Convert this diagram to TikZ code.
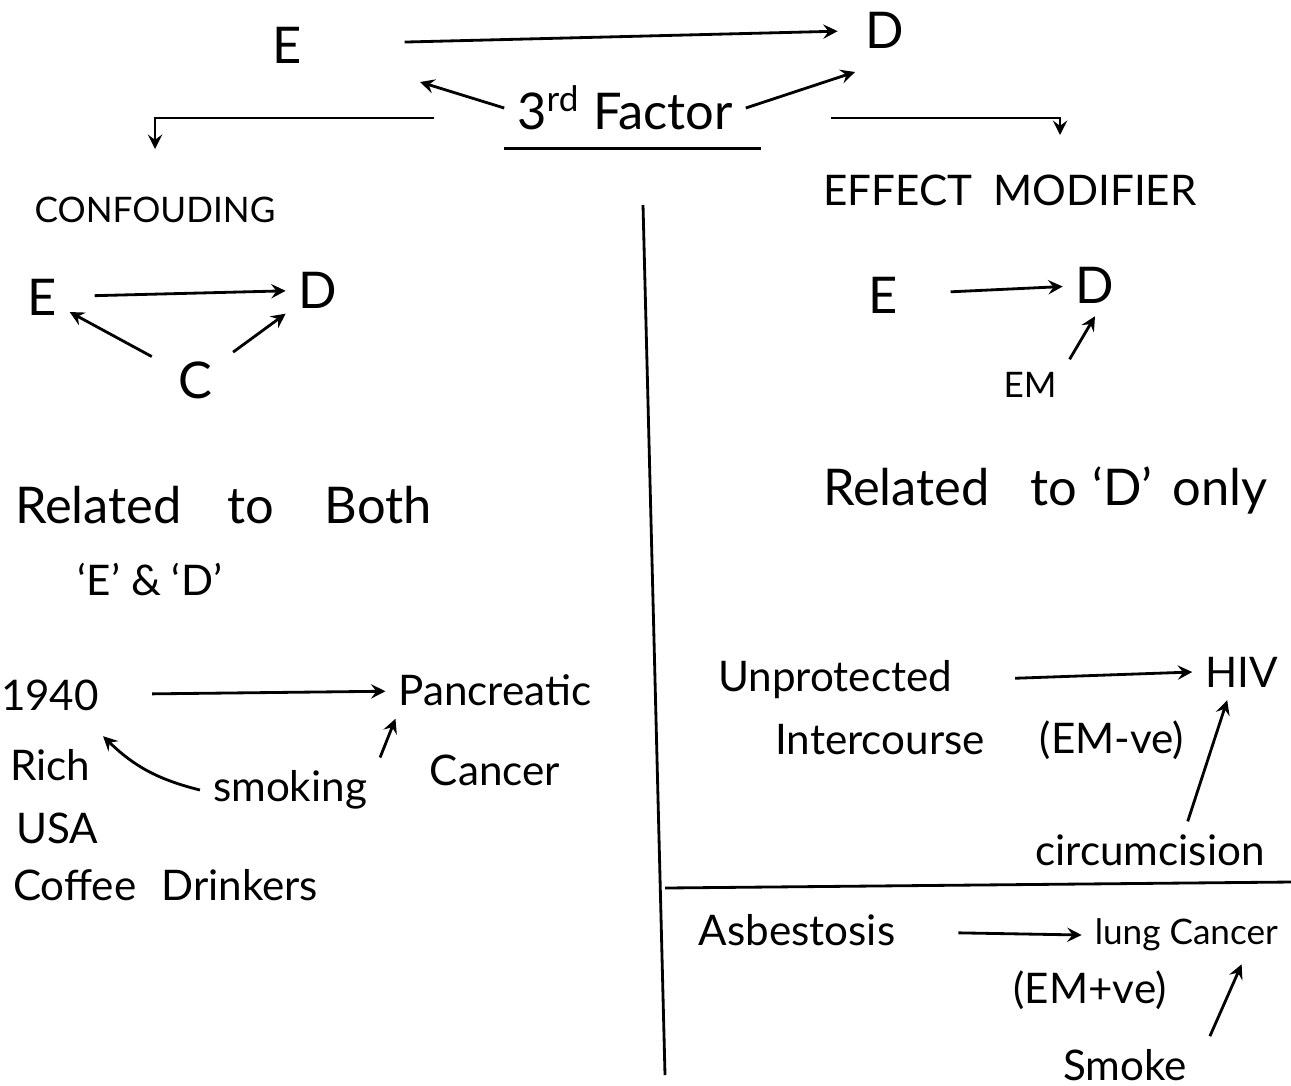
\documentclass[tikz,border=0pt]{standalone}
\usepackage{fontspec}
\setmainfont{Lato}
\begin{document}
\begin{tikzpicture}[>=stealth, every path/.style={thick}]
            \useasboundingbox (0,0) rectangle (12.91,-10.85);
            % top: third factor
            \node (E) at (2.87,-0.45) {\Large E};
            \node (D) at (8.85,-0.30) {\Large D};
            \node (F) at (6.25,-1.08) {\Large 3\textsuperscript{rd} Factor};
            \coordinate (e1) at (4.2,-0.82);
            \coordinate (d1) at (8.55,-0.72);
            \coordinate (r1) at (10.6,-1.35);
            \draw[->, shorten <=0.9cm, shorten >=0.15cm] (E) -- (D);
            \draw[->] (F.west) -- (e1);
            \draw[->] (F.east) -- (d1);
            \draw ([yshift=-0.05cm]F.south west) -- ([yshift=-0.05cm,xshift=0.15cm]F.south east);
            \node (CF) at (1.55,-2.1) {CONFOUDING};
            \node (EM) at (10.1,-1.9) {\large EFFECT\enspace MODIFIER};
            \draw[->, shorten <=0.7cm, shorten >=0.35cm] ([yshift=-0.1cm]F.west) -| (CF.north);
            \draw[->, shorten <=0.85cm] ([yshift=-0.1cm]F.east) -| (r1);
            % dividers
            \draw (6.43,-2.05) -- (6.65,-10.75);
            \draw (6.65,-8.88) -- (12.91,-8.82);
            % confounding
            \node (E2) at (0.42,-2.97) {\Large E};
            \node (D2) at (3.18,-2.9) {\Large D};
            \node (C) at (1.95,-3.8) {\Large C};
            \draw[->, shorten <=0.25cm] (E2) -- (D2);
            \draw[->, shorten <=0.15cm] (C) -- (E2);
            \draw[->, shorten <=0.1cm] (C) -- (D2);
            \node[anchor=west] (RB) at (0.02,-5.05) {\Large Related\hspace{0.9em}to\hspace{1em}Both};
            \node (ED) at (1.5,-5.8) {\large `E' \& `D'};
            % effect modifier
            \node (E3) at (8.83,-2.95) {\Large E};
            \node (D3) at (10.95,-2.85) {\Large D};
            \node (M) at (10.3,-3.85) {EM};
            \draw[->, shorten <=0.4cm] (E3) -- (D3);
            \draw[->] (M.north east) -- (D3.south);
            \node[anchor=west] (RD) at (8.1,-4.9) {\Large Related\hspace{0.8em}to\hspace{0.3em}`D'\hspace{0.4em}only};
            % example: smoking
            \node (A1) at (0.5,-6.95) {\large 1940};
            \node (A2) at (0.5,-7.65) {\large Rich};
            \node (A3) at (0.57,-8.28) {\large USA};
            \node[anchor=west] (A4) at (0,-8.85) {\large Coffee\hspace{0.6em}Drinkers};
            \node (P) at (4.95,-6.9) {\large Pancreatic};
            \node (P2) at (4.95,-7.7) {\large Cancer};
            \node (S) at (2.9,-7.9) {\large smoking};
            \draw[->, shorten <=0.4cm] (A1) -- (P);
            \draw[->] (S.west) to[bend left=15] (A2.north east);
            \draw[->] (S.north east) -- ([xshift=0.1cm]P.south west);
            % example: HIV
            \node (U) at (8.35,-6.8) {\large Unprotected};
            \node (I) at (8.8,-7.4) {\large Intercourse};
            \node (N) at (11.12,-7.4) {\large (EM-ve)};
            \node[anchor=east] (H) at (12.91,-6.72) {\large HIV};
            \node (Ci) at (11.5,-8.5) {\large circumcision};
            \draw[->, shorten <=0.5cm] (U.east) -- (H.west);
            \draw[->] ([xshift=-0.9cm]Ci.north east) -- ([xshift=0.35cm]H.south west);
            % example: lung
            \node (As) at (7.97,-9.3) {\large Asbestosis};
            \node[anchor=east] (L) at (12.91,-9.35) {lung Cancer};
            \node (N2) at (10.9,-9.9) {\large (EM+ve)};
            \node (Sm) at (11.25,-10.65) {\large Smoke};
            \draw[->, shorten <=0.5cm] (As) -- (L.west);
            \draw[->] ([xshift=0.1cm]Sm.north east) -- ([xshift=1.6cm]L.south west);
            \end{tikzpicture}
\end{document}
